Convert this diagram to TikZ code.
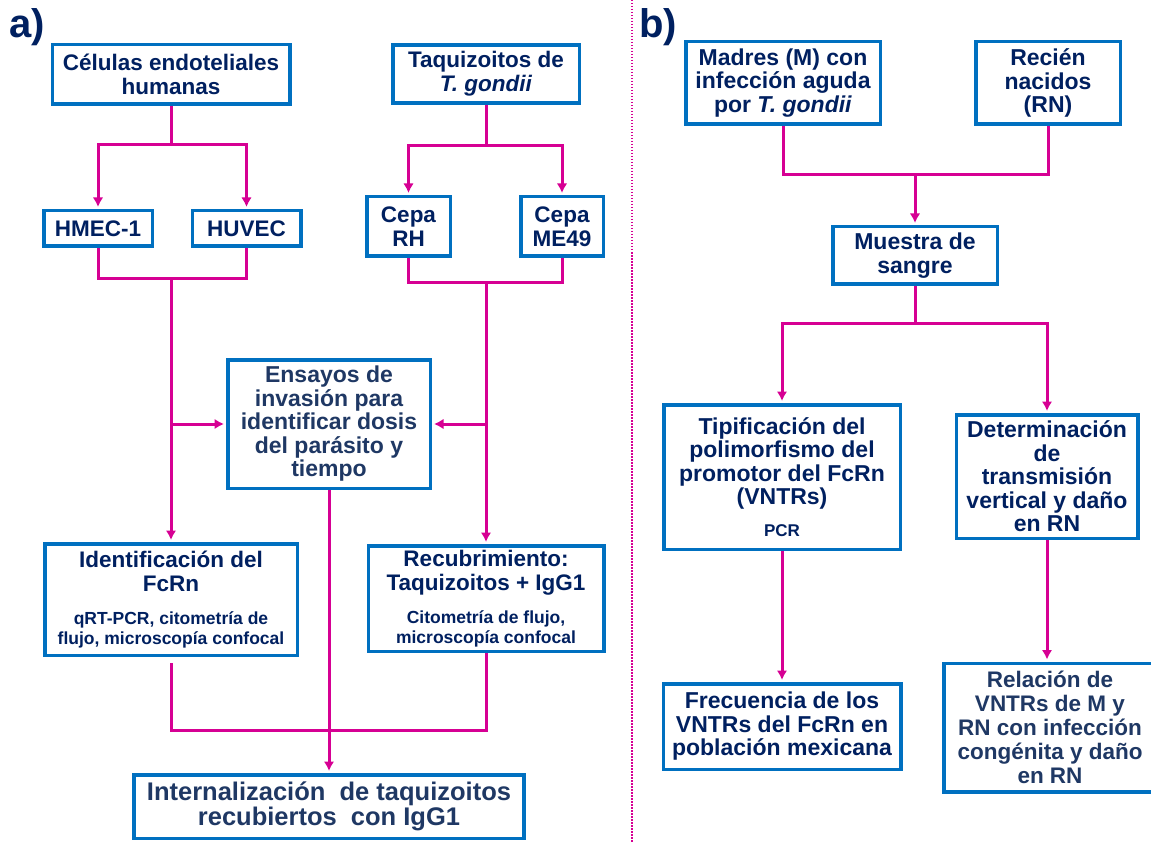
\documentclass[tikz,border=0pt]{standalone}
\usepackage{fontspec}
\setmainfont{Liberation Sans}
\usetikzlibrary{positioning, arrows.meta, calc}
\definecolor{boxblue}{RGB}{0,112,192}
\definecolor{linkpink}{RGB}{214,0,147}
\definecolor{navy}{RGB}{0,32,96}
\definecolor{navysoft}{RGB}{31,56,100}
\newcommand{\detalle}[1]{{\fontsize{17.5}{19}\selectfont #1}}

\begin{document}
\begin{tikzpicture}[
  x=1pt, y=-1pt,
  font=\fontsize{22.5}{24}\selectfont\bfseries,
  caja/.style={rectangle, draw=boxblue, line width=3.5pt, fill=white, text=navy,
               align=center, inner sep=2pt},
  cajab/.style={caja, font=\fontsize{23}{23.5}\selectfont\bfseries},
  tam/.style 2 args={minimum width=#1, minimum height=#2},
  etiq/.style={text=navy, font=\fontsize{40}{40}\selectfont\bfseries, inner sep=0pt},
  enlace/.style={linkpink, line width=3pt},
  flecha/.style={enlace, -{Latex[length=9.5pt,width=10.5pt]}, shorten >=2pt},
  divisor/.style={linkpink, line width=1.5pt, dash pattern=on 1.5pt off 1.5pt},
]
\useasboundingbox (0,0) rectangle (1151,842);

% panel a
\node[etiq, anchor=base west] (la) at (9,38) {a)};
\node[caja, tam={237.5}{59.5}] (cel) at (171,74.5) {Células endoteliales\\humanas};
\node[caja, tam={186.5}{58}] (taq) at (486,74) {Taquizoitos de\\\textit{T. gondii}};
\node[caja, tam={108.5}{35.5}] (hmec) at (98,228.5) {HMEC-1};
\node[caja, tam={108.5}{35.5}, right=36.5pt of hmec] (huvec) {HUVEC};
\node[caja, tam={83.5}{59.5}] (rh) at (408.5,226.5) {Cepa\\RH};
\node[caja, tam={82.5}{59.5}] (me) at (562,226.5) {Cepa\\ME49};
\node[cajab, text=navysoft, tam={202.5}{128.5}] (ens) at (329,424)
  {Ensayos de\\invasión para\\identificar dosis\\del parásito y\\tiempo};
\node[caja, tam={252.5}{111.5}] (ident) at (171,599.5)
  {Identificación del\\FcRn\\[9pt]\detalle{qRT-PCR, citometría de}\\[-4pt]\detalle{flujo, microscopía confocal}};
\node[caja, tam={235.5}{105.5}] (recu) at (486,598.5)
  {Recubrimiento:\\Taquizoitos + IgG1\\[9pt]\detalle{Citometría de flujo,}\\[-4pt]\detalle{microscopía confocal}};
\node[caja, text=navysoft, font=\fontsize{25.5}{25}\selectfont\bfseries, tam={390}{63.5}] (intern) at (329,806.5)
  {Internalización\ \ de taquizoitos\\recubiertos\ \ con IgG1};

% cells
\coordinate (jc) at (171,145);
\coordinate (jh) at (171,279);
\draw[enlace] (cel.south) -- (jc);
\draw[flecha] (jc) -| (hmec.north);
\draw[flecha] (jc) -| (huvec.north);
\draw[enlace] (hmec.south) |- (jh) -| (huvec.south);
\draw[flecha] (jh) -- (ident.north);
\draw[flecha] (jh |- ens.west) -- (ens.west);

% strains
\coordinate (jt) at (486,146);
\coordinate (jr) at (486,283);
\draw[enlace] (taq.south) -- (jt);
\draw[flecha] (jt) -| (rh.north);
\draw[flecha] (jt) -| (me.north);
\draw[enlace] (rh.south) |- (jr) -| (me.south);
\draw[flecha] (jr) -- (recu.north);
\draw[flecha] (jr |- ens.east) -- (ens.east);

% to internalization
\coordinate (jb) at (329,730);
\draw[enlace, shorten <=6pt] (ident.south) |- (jb) -| (recu.south);
\draw[flecha] (ens.south) -- (ens.south |- intern.north);

% divider
\coordinate (divtop) at (632,0);
\coordinate (divbot) at (632,842);
\draw[divisor] (divtop) -- (divbot);

% panel b
\node[etiq, anchor=base west] (lb) at (639,38) {b)};
\node[cajab, tam={194.5}{82.5}] (madres) at (783,83)
  {Madres (M) con\\infección aguda\\por \textit{T. gondii}};
\node[cajab, tam={144.5}{82.5}] (recien) at (1048,83) {Recién\\nacidos\\(RN)};
\node[cajab, tam={164.5}{57.5}] (sangre) at (915,255.5) {Muestra de\\sangre};
\node[cajab, tam={236.5}{144.5}] (tipif) at (782,477)
  {Tipificación del\\polimorfismo del\\promotor del FcRn\\(VNTRs)\\[8pt]{\fontsize{17}{19}\selectfont PCR}};
\node[cajab, tam={181.5}{123.5}] (deter) at (1047,476.5)
  {Determinación\\de\\transmisión\\vertical y daño\\en RN};
\node[cajab, tam={237.5}{85.5}] (frec) at (782,726.5)
  {Frecuencia de los\\VNTRs del FcRn en\\población mexicana};
\node[caja, text=navysoft, font=\fontsize{22.5}{24}\selectfont\bfseries, tam={212}{128.5}] (rel) at (1050,727.5)
  {Relación de\\VNTRs de M y\\RN con infección\\congénita y daño\\en RN};

% mothers and newborns
\coordinate (jm) at (915,175);
\coordinate (js) at (915,323);
\draw[enlace] (madres.south) |- (jm) -| (recien.south);
\draw[flecha] (jm) -- (sangre.north);
\draw[enlace] (sangre.south) -- (js);
\draw[flecha] (js) -| (tipif.north);
\draw[flecha] (js) -| (deter.north);
\draw[flecha] (tipif.south) -- (frec.north);
\draw[flecha] (deter.south) -- (deter.south |- rel.north);
\end{tikzpicture}
\end{document}
